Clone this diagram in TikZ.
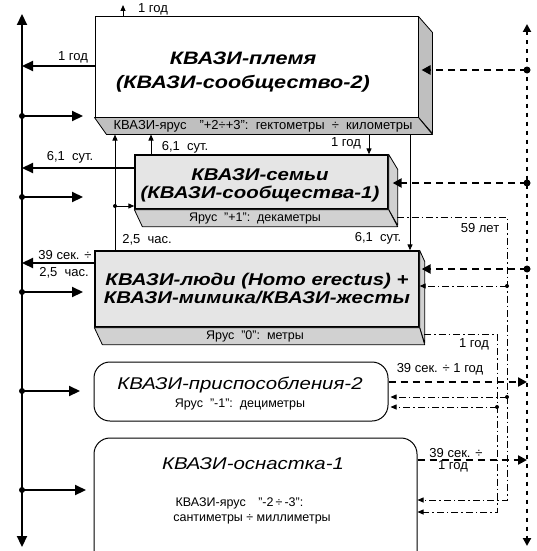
\documentclass[tikz,border=0pt]{standalone}
\usepackage{fontspec}
\setmainfont{Liberation Sans}
\newfontfamily\widefont[FakeStretch=1.2]{Liberation Sans}
\usetikzlibrary{arrows.meta, positioning, calc}
\colorlet{facegray}{black!10}
\colorlet{bandgray}{black!25}
\colorlet{sidegray}{black!18}

\begin{document}
\begin{tikzpicture}[x=1pt, y=-1pt, >={Triangle[length=6pt, width=5pt]},
    front/.style={draw, line width=1pt, inner sep=0pt},
    bevel/.style={draw, line width=0.8pt, line join=round},
    lbl/.style={font=\fontsize{13}{14}\selectfont, inner sep=0pt},
    bandlbl/.style={font=\fontsize{12.5}{14}\selectfont, inner sep=0pt},
    boldtitle/.style={font=\widefont\fontsize{17}{18}\selectfont\bfseries\itshape, align=center, inner sep=0pt},
    plaintitle/.style={font=\widefont\fontsize{17}{18}\selectfont\itshape, inner sep=0pt},
    fatarrow/.style={line width=2.2pt, -{Triangle[length=11pt, width=10pt]}},
    thinarrow/.style={line width=1pt, ->},
    dotrail/.style={line width=2.5pt, dash pattern=on 4pt off 5pt, {Triangle[length=8pt, width=8pt]}-{Triangle[length=8pt, width=8pt]}},
    dashlink/.style={line width=2.5pt, dash pattern=on 7pt off 5pt, -{Triangle[length=9pt, width=9pt]}},
    chainlink/.style={line width=0.8pt, dash pattern=on 7pt off 3pt on 1.5pt off 3pt, ->}]
    \useasboundingbox (0,0) rectangle (536,551);

    % Left axis
    \coordinate (axtop) at (22,14);
    \coordinate (axbot) at (22,547);
    \draw[line width=2.2pt, {Triangle[length=11pt, width=10pt]}-{Triangle[length=11pt, width=10pt]}] (axtop) -- (axbot);

    % Right rail
    \coordinate (rtop) at (527,24);
    \coordinate (rbot) at (527,546);
    \draw[dotrail] (rtop) -- (rbot);

    % Box 1: tribe
    \node[front, fill=white, minimum width=323pt, minimum height=100pt] (tribe) at (256.5,67) {};
    \draw[bevel, fill=bandgray] (tribe.north east) -- ++(14,16) -- ++(0,101) -- (tribe.south east) -- cycle;
    \draw[bevel, fill=bandgray] (tribe.south west) -- (tribe.south east) -- ++(14,17) -- ($(tribe.south west)+(12,17)$) -- cycle;
    \coordinate (tb) at ($(tribe.south)+(0,17)$);
    \node[boldtitle, font=\widefont\fontsize{18}{24}\selectfont\bfseries\itshape] at (243,72) {КВАЗИ-племя\\(КВАЗИ-сообщество-2)};
    \node[bandlbl, font=\fontsize{13}{14}\selectfont] at (263,126) {КВАЗИ-ярус\quad"+2÷+3":~~гектометры~~÷~~километры};

    % Box 2: families
    \node[front, fill=facegray, line width=1.3pt, minimum width=253pt, minimum height=54pt] (fam) at (261.5,182) {};
    \draw[bevel, fill=sidegray] (fam.north east) -- ++(9,15) -- ++(0,56) -- (fam.south east) -- cycle;
    \draw[bevel, fill=sidegray] (fam.south west) -- (fam.south east) -- ++(9,17) -- ($(fam.south west)+(8,17)$) -- cycle;
    \node[boldtitle] at (260,185) {КВАЗИ-семьи\\(КВАЗИ-сообщества-1)};
    \node[bandlbl] at (255,218) {Ярус~~"+1":~~декаметры};

    % Box 3: people
    \node[front, fill=facegray, line width=1.3pt, minimum width=324pt, minimum height=76pt] (folk) at (257,289) {};
    \draw[bevel, fill=sidegray] (folk.north east) -- ++(5,11) -- ++(0,82) -- (folk.south east) -- cycle;
    \draw[bevel, fill=sidegray] (folk.south west) -- (folk.south east) -- ++(5,17) -- ($(folk.south west)+(8,17)$) -- cycle;
    \node[boldtitle] at (257,289) {КВАЗИ-люди (Homo erectus) +\\КВАЗИ-мимика/КВАЗИ-жесты};
    \node[bandlbl] at (255,336) {Ярус~~"0":~~метры};

    % Box 4 and box 5
    \node[front, rounded corners=16pt, minimum width=294pt, minimum height=59pt] (tools) at (241,391.5) {};
    \node[plaintitle] at (240,385) {КВАЗИ-приспособления-2};
    \node[bandlbl] at (240,404) {Ярус~~"-1":~~дециметры};
    \node[front, rounded corners=16pt, minimum width=323pt, minimum height=132pt] (rig) at (255.5,504) {};
    \node[plaintitle] at (253,464) {КВАЗИ-оснастка-1};
    \node[bandlbl, align=center] at (252,511) {КВАЗИ-ярус\quad"-2\,÷\,-3":\hspace*{2em}\\[1pt]сантиметры ÷ миллиметры};

    % Left arrows to the axis
    \draw[fatarrow] (tribe.west |- 0,66) -- (axtop |- 0,66);
    \draw[fatarrow] (fam.west |- 0,168) -- (axtop |- 0,168);
    \draw[fatarrow] (folk.west |- 0,263) -- (axtop |- 0,263);
    \foreach \y/\e in {116/83, 197/83, 292/83, 391/80, 490/86} {
      \fill (axtop |- 0,\y) circle (3pt);
      \draw[fatarrow] (axtop |- 0,\y) -- (\e,\y);
    }
    \node[lbl] at (73,57) {1 год};
    \node[lbl] at (70,157) {6,1~~сут.};
    \node[lbl] at (65,255) {39 сек. ÷};
    \node[lbl] at (64,273) {2,5~~час.};

    % Arrows between the boxes
    \draw[thinarrow] (tribe.north -| 123,0) -- (123,5);
    \node[lbl] at (153,9) {1 год};
    \draw[thinarrow] (folk.north -| 115,0) -- (tb -| 115,0);
    \fill (115,206) circle (2pt);
    \draw[thinarrow] (115,206) -- (fam.west |- 0,206);
    \draw[thinarrow] (fam.north -| 151,0) -- (tb -| 151,0);
    \draw[thinarrow] (tb -| 369,0) -- (fam.north -| 369,0);
    \draw[thinarrow] (tb -| 410,0) -- (folk.north -| 410,0);
    \node[lbl] at (185,147) {6,1~~сут.};
    \node[lbl] at (346,143) {1 год};
    \node[lbl] at (147,240) {2,5~~час.};
    \node[lbl] at (378,238) {6,1~~сут.};

    % Dashed links to the right rail
    \foreach \y/\n/\s in {70/tribe/3, 183/fam/4, 269/folk/2} {
      \fill (rtop |- 0,\y) circle (3.5pt);
      \draw[dashlink] (rtop |- 0,\y) -- ([xshift=\s pt]\n.east |- 0,\y);
    }
    \draw[dashlink] (tools.east |- 0,382) -- (rtop |- 0,382);
    \draw[dashlink] (rig.east |- 0,460) -- (rtop |- 0,460);
    \node[lbl] at (440,369) {39 сек. ÷ 1 год};
    \node[lbl] at (456,453) {39 сек. ÷};
    \node[lbl] at (453,466) {1 год};

    % Dash-dot links
    \draw[chainlink] (397,217) -- (507,217) -- (507,500) -- (rig.east |- 0,500);
    \draw[chainlink] (424,334) -- (497,334) -- (497,512) -- (rig.east |- 0,512);
    \fill (507,286) circle (2pt);
    \draw[chainlink] (507,286) -- (folk.east |- 0,286);
    \fill (507,397) circle (2pt);
    \draw[chainlink] (507,397) -- ([xshift=2pt]tools.east |- 0,397);
    \fill (497,407) circle (2pt);
    \draw[chainlink] (497,407) -- ([xshift=2pt]tools.east |- 0,407);
    \node[lbl] at (480,228) {59 лет};
    \node[lbl] at (474,344) {1 год};
\end{tikzpicture}
\end{document}
